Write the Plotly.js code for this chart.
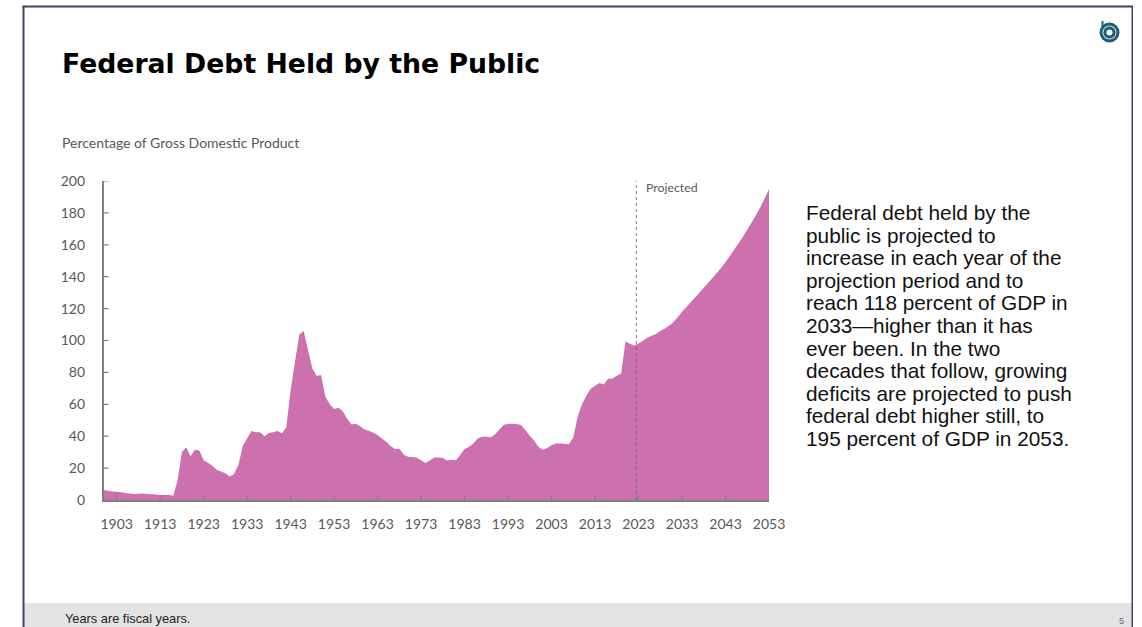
<!DOCTYPE html>
<html>
<head>
<meta charset="utf-8">
<script src="https://cdn.plot.ly/plotly-3.0.1.min.js"></script>
<style>
  html, body { margin: 0; padding: 0; background: #fff; }
  #chart { width: 1142px; height: 627px; }
  svg text { font-variant-ligatures: none; }
</style>
</head>
<body>
<div id="chart"></div>
<script>
// Federal debt held by the public, percent of GDP, fiscal years 1900-2053
const firstYear = 1900;
const lastYear = 2053;
const debtHistorical = [
  6.2, 5.8, 5.4, 5.1, 4.8, 4.4, 4.0, 3.8, 3.9, 4.0,
  3.7, 3.6, 3.4, 3.2, 3.1, 3.3, 2.7, 12, 30, 33,
  27.5, 31.5, 31, 25, 23.3, 21.5, 19, 17.8, 16.8, 14.7,
  16.3, 22, 34, 38.6, 43.2, 42.4, 42.4, 40, 42, 42.5,
  43.2, 41.8, 45.5, 69, 86.5, 103.7, 106, 94, 82.5, 77.7,
  78.3, 64.7, 60, 57, 57.8, 55.7, 51, 47.4, 47.8, 46.3,
  44.2, 43.4, 42.2, 40.7, 38.6, 36.5, 33.8, 32, 32.2, 28.6,
  27.1, 26.9, 26.5, 25, 23.2, 24.8, 26.7, 26.7, 26.3, 24.8,
  25.2, 25, 28.2, 32, 33.2, 35.5, 38.6, 39.7, 39.7, 39.4,
  41, 44.2, 47, 47.8, 47.8, 47.6, 46.8, 43.8, 40.3, 37.2,
  33.4, 31.5, 32.6, 34.4, 35.5, 35.5, 35.3, 35, 39.4, 52,
  60, 65.3, 69.7, 71.6, 73.3, 72.4, 76, 76.2, 77.9, 79.3,
  99.6, 98, 96.9
];
const debtProjected = [
  98.1, 99.8, 101.7, 103, 104, 106, 107.3, 109.3, 111.5, 114.5,
  118, 121, 124, 127, 130, 133, 136, 139.2, 142.3, 145.6,
  149, 153, 157, 161, 165, 169.5, 174, 178.5, 183.5, 189, 195
];
const debtValues = debtHistorical.concat(debtProjected);
const years = debtValues.map((_, i) => firstYear + i);

const yTicks = [0, 20, 40, 60, 80, 100, 120, 140, 160, 180, 200];
const xTicks = [1903, 1913, 1923, 1933, 1943, 1953, 1963, 1973, 1983, 1993, 2003, 2013, 2023, 2033, 2043, 2053];

const slideTitle = 'Federal Debt Held by the Public';
const unitLabel = 'Percentage of Gross Domestic Product';
const projectedLabel = 'Projected';
const projectionStart = 2022.5;
const footnote = 'Years are fiscal years.';
const pageNumber = '5';
const bodyLines = [
  'Federal debt held by the',
  'public is projected to',
  'increase in each year of the',
  'projection period and to',
  'reach 118 percent of GDP in',
  '2033\u2014higher than it has',
  'ever been. In the two',
  'decades that follow, growing',
  'deficits are projected to push',
  'federal debt higher still, to',
  '195 percent of GDP in 2053.'
];

const W = 1142, H = 627;
const fx = p => p / W;
const fy = p => 1 - p / H;

const CHART_FONT = 'Lato, "Open Sans", sans-serif';
const SLIDE_FONT = '"Liberation Sans", Arial, sans-serif';
const TITLE_FONT = '"DejaVu Sans", "Liberation Sans", sans-serif';
const GREY_TEXT = '#585858';
const AXIS_GREY = '#808080';

function paperText(text, x, y, size, color, family, xanchor) {
  return {
    text, xref: 'paper', yref: 'paper', x: fx(x), y: fy(y),
    xanchor: xanchor || 'left', yanchor: 'middle', showarrow: false,
    font: { family, size, color }
  };
}

function paperCircle(cx, cy, r, fill) {
  return {
    type: 'circle', xref: 'paper', yref: 'paper', layer: 'above',
    x0: fx(cx - r), x1: fx(cx + r), y0: fy(cy + r), y1: fy(cy - r),
    fillcolor: fill, line: { width: 0 }
  };
}

function paperRect(x0, y0, x1, y1, fill, layer) {
  return {
    type: 'rect', xref: 'paper', yref: 'paper', layer: layer || 'below',
    x0: fx(x0), x1: fx(x1), y0: fy(y1), y1: fy(y0),
    fillcolor: fill, line: { width: 0 }
  };
}

const FRAME = '#3b4563';
const LOGO = '#1d5e78';
const TICK_IN_YEARS = 1.15;
const TICK_IN_PERCENT = 3.1;

// Ticks point into the plot, including the ones on both axis ends
const xTickMarks = xTicks.map(v => ({
  type: 'line', xref: 'x', yref: 'y', layer: 'above',
  x0: v, x1: v, y0: 0, y1: TICK_IN_PERCENT,
  line: { color: AXIS_GREY, width: 1.2 }
}));
const yTickMarks = yTicks.map(v => ({
  type: 'line', xref: 'x', yref: 'y', layer: 'above',
  x0: firstYear, x1: firstYear + TICK_IN_YEARS, y0: v, y1: v,
  line: { color: AXIS_GREY, width: 1.2 }
}));

const shapes = [
  // footer band
  paperRect(24, 603, 1132, 627, '#e3e3e3'),
  // slide frame
  paperRect(22.5, 5.5, 1133, 7.5, FRAME),
  paperRect(22.5, 6, 24.5, 627, FRAME),
  paperRect(1131.5, 6, 1133, 627, FRAME),
  // logo mark
  paperRect(1101.5, 21, 1103.5, 28, LOGO, 'above'),
  paperCircle(1109.5, 32.5, 10, LOGO),
  paperCircle(1109.5, 32.5, 7, '#cfe0e6'),
  paperCircle(1109.5, 32.5, 6, LOGO),
  paperCircle(1109.5, 32.5, 3, '#ffffff'),
  // start of the projection period
  {
    type: 'line', xref: 'x', yref: 'y', layer: 'above',
    x0: projectionStart, x1: projectionStart, y0: 0, y1: 200,
    line: { color: '#5c5c5c', width: 0.8, dash: 'dot' }
  }
].concat(xTickMarks, yTickMarks);

const annotations = [
  paperText(unitLabel, 59.5, 142.5, 14, GREY_TEXT, CHART_FONT),
  paperText(projectedLabel, 643.8, 187, 12.3, GREY_TEXT, CHART_FONT),
  paperText(footnote, 62.5, 618.5, 12.8, '#222222', SLIDE_FONT),
  paperText(pageNumber, 1126, 620.5, 9, '#6a6a6a', SLIDE_FONT, 'right')
].concat(bodyLines.map((line, i) =>
  paperText(line, 803.5, 212.5 + i * 22.6, 20.8, '#111111', SLIDE_FONT)
));

const debtArea = {
  type: 'scatter',
  x: years,
  y: debtValues,
  mode: 'none',
  fill: 'tozeroy',
  fillcolor: '#cc71ae',
  hoverinfo: 'x+y'
};

const layout = {
  width: W,
  height: H,
  margin: { l: 0, r: 0, t: 0, b: 0 },
  paper_bgcolor: '#ffffff',
  plot_bgcolor: 'rgba(0,0,0,0)',
  showlegend: false,
  title: {
    text: slideTitle,
    font: { family: TITLE_FONT, size: 26.7, color: '#000000', weight: 700 },
    xref: 'paper', yref: 'paper',
    x: fx(62), xanchor: 'left',
    y: fy(64), yanchor: 'middle'
  },
  xaxis: {
    domain: [fx(103.6), fx(769)],
    range: [firstYear, lastYear],
    tickvals: xTicks,
    ticktext: xTicks.map(String),
    ticks: '',
    showline: true,
    linecolor: AXIS_GREY,
    linewidth: 1.5,
    showgrid: false,
    zeroline: false,
    ticklabelstandoff: 10,
    tickfont: { family: CHART_FONT, size: 14, color: GREY_TEXT }
  },
  yaxis: {
    domain: [fy(500), fy(181)],
    range: [0, 200],
    tickvals: yTicks,
    ticktext: yTicks.map(String),
    ticks: '',
    showline: true,
    linecolor: AXIS_GREY,
    linewidth: 1.5,
    showgrid: false,
    zeroline: false,
    ticklabelstandoff: 14,
    tickfont: { family: CHART_FONT, size: 14, color: GREY_TEXT }
  },
  shapes,
  annotations
};

Plotly.newPlot('chart', [debtArea], layout, { displayModeBar: false, responsive: false });
</script>
</body>
</html>
